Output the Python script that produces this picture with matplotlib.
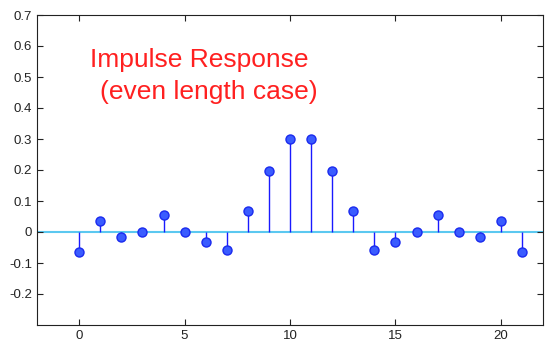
import matplotlib
matplotlib.use('Agg')
import matplotlib.pyplot as plt
import numpy as np

plt.rcParams['font.family'] = ['Liberation Sans', 'DejaVu Sans']

n = np.arange(22)
h = [-0.066, 0.036, -0.016, 0.001, 0.054, 0.001, -0.033, -0.058, 0.068, 0.198,
     0.300, 0.300, 0.198, 0.068, -0.058, -0.033, 0.001, 0.054, 0.001, -0.016,
     0.036, -0.066]

fig = plt.figure(figsize=(5.47, 3.48), dpi=100)
ax = fig.add_axes([37 / 547, 1 - 325 / 348, (543 - 37) / 547, (325 - 15) / 348])

ax.axhline(0, color='#5bc8f0', linewidth=1.5, zorder=1)
ax.vlines(n, 0, h, color='#1a1aff', linewidth=1.0, zorder=2)
ax.plot(n, h, linestyle='none', marker='o', markersize=6.5,
        markerfacecolor='#3a5cff', markeredgecolor='#1a2aee', markeredgewidth=1, zorder=3)

ax.set_xlim(-2, 22)
ax.set_ylim(-0.3, 0.7)
ax.set_xticks([0, 5, 10, 15, 20])
ax.set_yticks(np.round(np.arange(-0.2, 0.71, 0.1), 1))
ax.set_yticklabels(['-0.2', '-0.1', '0', '0.1', '0.2', '0.3', '0.4', '0.5', '0.6', '0.7'])
ax.tick_params(direction='in', top=True, right=True, length=4, labelsize=9.5, colors='#222222')
for s in ax.spines.values():
    s.set_color('#222222')

ax.text(0.5, 0.556, 'Impulse Response', color='#ff2020', fontsize=19, va='center', ha='left')
ax.text(1.0, 0.45, '(even length case)', color='#ff2020', fontsize=19, va='center', ha='left')

fig.savefig('out.png', dpi=100)
